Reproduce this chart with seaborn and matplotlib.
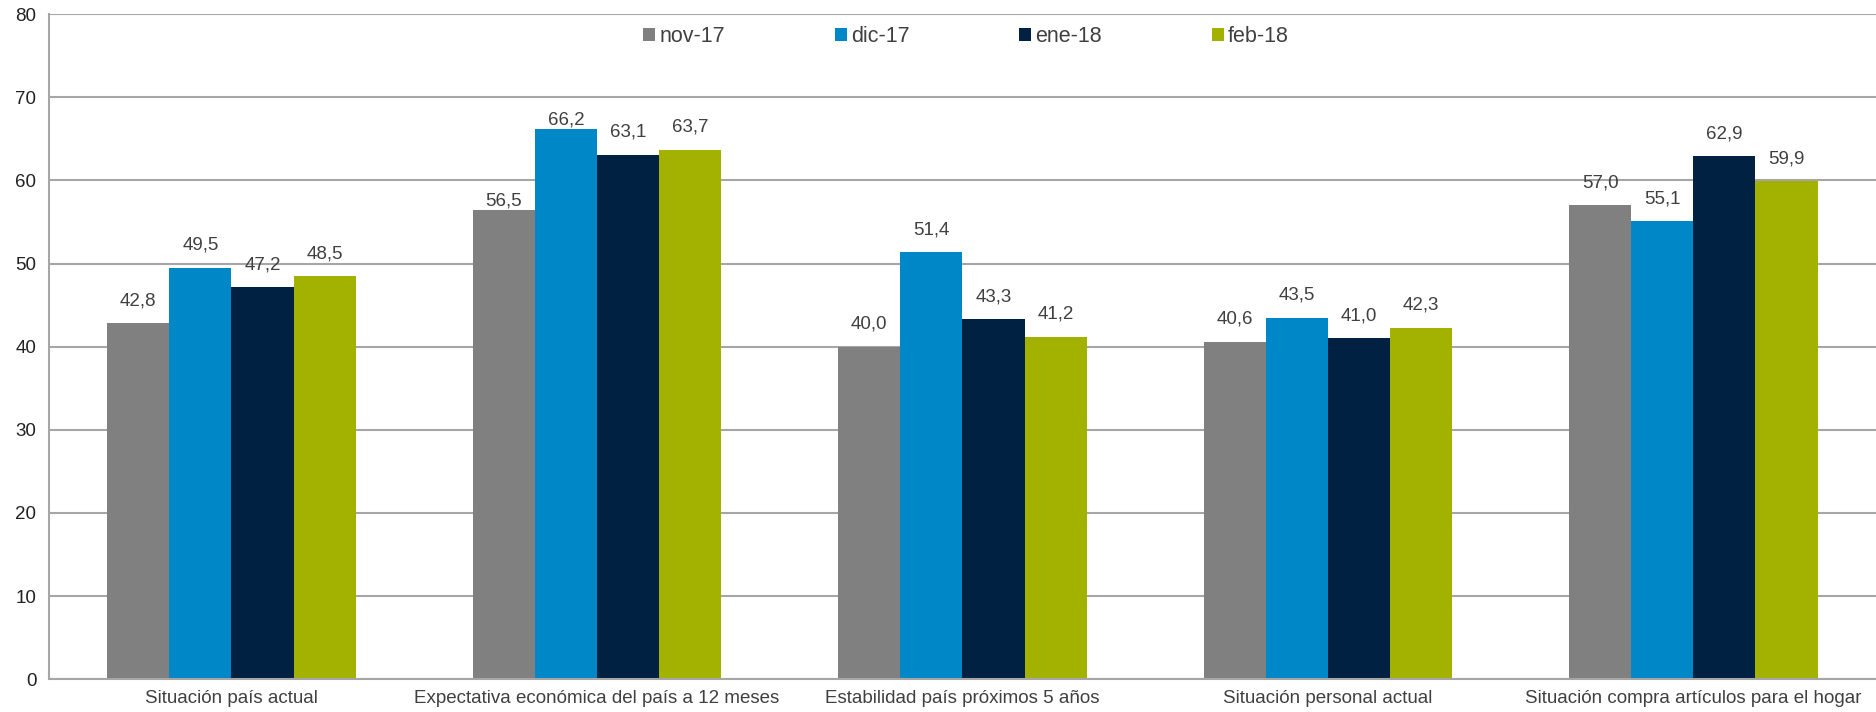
import matplotlib
matplotlib.use('Agg')
import matplotlib.pyplot as plt
import pandas as pd
import seaborn as sns
from matplotlib.ticker import FixedLocator

categories = ['Situación país actual', 'Expectativa económica del país a 12 meses',
              'Estabilidad país próximos 5 años', 'Situación personal actual',
              'Situación compra artículos para el hogar']
periods = ['nov-17', 'dic-17', 'ene-18', 'feb-18']
nov17 = [42.8, 56.5, 40.0, 40.6, 57.0]
dic17 = [49.5, 66.2, 51.4, 43.5, 55.1]
ene18 = [47.2, 63.1, 43.3, 41.0, 62.9]
feb18 = [48.5, 63.7, 41.2, 42.3, 59.9]
colors = ['#808080', '#0087c8', '#002142', '#a3b100']

rows = []
for per, vals in zip(periods, [nov17, dic17, ene18, feb18]):
    for cat, v in zip(categories, vals):
        rows.append({'cat': cat, 'period': per, 'value': v})
df = pd.DataFrame(rows)

sns.set_style('white')
plt.rcParams['font.family'] = ['Liberation Sans', 'DejaVu Sans']
txt = '#404040'
grid = '#a6a6a6'

fig = plt.figure(figsize=(18.76, 7.12), dpi=100)
ax = fig.add_axes([0.026, 0.046, 0.974, 0.934])
sns.barplot(data=df, x='cat', y='value', hue='period', palette=colors,
            width=0.68, saturation=1, ax=ax, errorbar=None, linewidth=0)

# labels sit ~15px above bars, two of them were nudged down in the original
tight = {(1, 0), (1, 1)}
for j, cont in enumerate(ax.containers):
    for i, b in enumerate(cont):
        ax.annotate(f'{b.get_height():.1f}'.replace('.', ','),
                    (b.get_x() + b.get_width() / 2, b.get_height()),
                    xytext=(0, 0 if (i, j) in tight else 10), textcoords='offset points',
                    ha='center', va='bottom', fontsize=13.5, color=txt)

ax.set_ylim(0, 80)
ax.set_yticks(range(0, 81, 10))
ax.set_xlim(-0.5, len(categories) - 0.5)
ax.yaxis.grid(True, color=grid, linewidth=1.5)
ax.set_axisbelow(True)
for s in ['top', 'right']:
    ax.spines[s].set_visible(False)
for s in ['left', 'bottom']:
    ax.spines[s].set_color(grid)
    ax.spines[s].set_linewidth(1.5)
ax.tick_params(axis='y', length=5, color=grid, width=1.2, labelsize=13.5, labelcolor='#222222', pad=4)
ax.tick_params(axis='x', which='major', length=0, labelsize=13.5, labelcolor=txt, pad=8)
ax.xaxis.set_minor_locator(FixedLocator([i - 0.5 for i in range(len(categories) + 1)]))
ax.tick_params(axis='x', which='minor', length=5, color=grid, width=1.2)
ax.set_xlabel('')
ax.set_ylabel('')

leg = ax.legend(loc='upper center', bbox_to_anchor=(0.502, 1.012), ncol=4, frameon=False,
                fontsize=15.5, handlelength=0.55, handleheight=0.55, handletextpad=0.2,
                columnspacing=5.1, labelcolor=txt)

fig.savefig('out.png', dpi=100)
